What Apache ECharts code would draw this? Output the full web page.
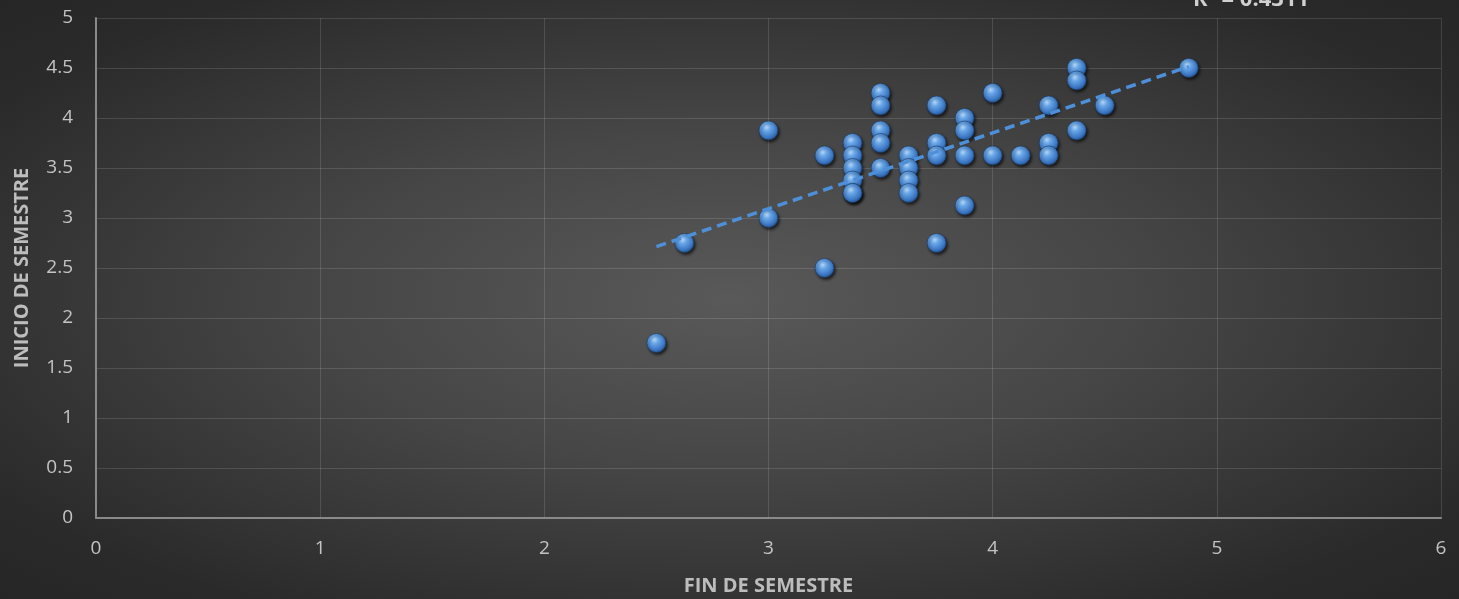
<!DOCTYPE html>
<html>
<head>
<meta charset="utf-8">
<style>
  html, body { margin: 0; padding: 0; }
  #chart {
    width: 1459px; height: 599px;
    background: radial-gradient(ellipse at 50% 50%, #595959 0%, #464646 40%, #2a2a2a 85%, #262626 100%);
  }
</style>
<script src="https://cdn.jsdelivr.net/npm/echarts@6/dist/echarts.min.js"></script>
</head>
<body>
<div id="chart"></div>
<script>
// Semester scores: end of semester (x) vs start of semester (y)
const finSemestre = [
  2.5, 2.625, 3.0, 3.0, 3.25, 3.25,
  3.375, 3.375, 3.375, 3.375, 3.375, 3.375,
  3.5, 3.5, 3.5, 3.5, 3.5,
  3.625, 3.625, 3.625, 3.625,
  3.75, 3.75, 3.75, 3.75,
  3.875, 3.875, 3.875, 3.875,
  4.0, 4.0, 4.125,
  4.25, 4.25, 4.25,
  4.375, 4.375, 4.375,
  4.5, 4.875
];
const inicioSemestre = [
  1.75, 2.75, 3.875, 3.0, 3.625, 2.5,
  3.75, 3.625, 3.5, 3.375, 3.25, 3.25,
  4.25, 4.125, 3.875, 3.75, 3.5,
  3.625, 3.5, 3.375, 3.25,
  4.125, 3.75, 3.625, 2.75,
  4.0, 3.875, 3.625, 3.125,
  4.25, 3.625, 3.625,
  4.125, 3.75, 3.625,
  4.5, 4.375, 3.875,
  4.125, 4.5
];
const xTicks = [0, 1, 2, 3, 4, 5, 6];
const yTicks = [0, 0.5, 1, 1.5, 2, 2.5, 3, 3.5, 4, 4.5, 5];
const rSquaredLabel = 'R² = 0.4311';

const points = finSemestre.map((x, i) => [x, inicioSemestre[i]]);

// Least-squares linear trend over the points
const n = points.length;
const mx = finSemestre.reduce((a, b) => a + b, 0) / n;
const my = inicioSemestre.reduce((a, b) => a + b, 0) / n;
let sxx = 0, sxy = 0;
points.forEach(([x, y]) => { sxx += (x - mx) * (x - mx); sxy += (x - mx) * (y - my); });
const slope = sxy / sxx;
const intercept = my - slope * mx;
const xMin = Math.min(...finSemestre), xMax = Math.max(...finSemestre);
const trend = [[xMin, intercept + slope * xMin], [xMax, intercept + slope * xMax]];

const chart = echarts.init(document.getElementById('chart'));
const tickColor = '#c4c4c4';
const gridColor = 'rgba(255,255,255,0.13)';
const axisColor = '#8a8a8a';
const font = '"Open Sans", sans-serif';

chart.setOption({
  backgroundColor: 'transparent',
  animation: false,
  grid: { left: 96, right: 18, top: 18, bottom: 81, containLabel: false, outerBoundsMode: 'none' },
  xAxis: {
    type: 'value',
    min: xTicks[0], max: xTicks[xTicks.length - 1], interval: 1,
    name: 'FIN DE SEMESTRE',
    nameLocation: 'middle', nameGap: 58,
    nameTextStyle: { color: '#bdbdbd', fontSize: 20, fontWeight: 'bold', fontFamily: font },
    axisLine: { show: true, lineStyle: { color: axisColor, width: 2 } },
    axisTick: { show: false },
    axisLabel: { color: tickColor, fontSize: 19, fontFamily: font, margin: 21 },
    splitLine: { show: true, lineStyle: { color: gridColor, width: 1 } }
  },
  yAxis: {
    type: 'value',
    min: yTicks[0], max: yTicks[yTicks.length - 1], interval: 0.5,
    name: 'INICIO DE SEMESTRE',
    nameLocation: 'middle', nameGap: 64,
    nameTextStyle: { color: '#bdbdbd', fontSize: 20, fontWeight: 'bold', fontFamily: font },
    axisLine: { show: true, lineStyle: { color: axisColor, width: 2 } },
    axisTick: { show: false },
    axisLabel: { color: tickColor, fontSize: 19, fontFamily: font, margin: 23 },
    splitLine: { show: true, lineStyle: { color: gridColor, width: 1 } }
  },
  graphic: [{
    type: 'text',
    x: 1193, y: -11,
    z: 10,
    style: {
      text: rSquaredLabel, fill: '#d0d0d0',
      font: 'bold 22px ' + font,
      textAlign: 'left', textVerticalAlign: 'top'
    }
  }],
  series: [
    {
      type: 'scatter',
      data: points,
      symbol: 'circle',
      symbolSize: 19,
      z: 2,
      itemStyle: {
        color: {
          type: 'radial', x: 0.4, y: 0.33, r: 0.7,
          colorStops: [
            { offset: 0, color: '#b4d6f8' },
            { offset: 0.3, color: '#68a5e6' },
            { offset: 0.75, color: '#3b77c4' },
            { offset: 1, color: '#24508a' }
          ]
        },
        borderColor: '#1d3c66', borderWidth: 0.6,
        shadowBlur: 3, shadowColor: 'rgba(0,0,0,0.65)',
        shadowOffsetX: 1.5, shadowOffsetY: 2,
        opacity: 1
      }
    },
    {
      type: 'line',
      data: trend,
      symbol: 'none',
      z: 3,
      lineStyle: { color: '#4d8fd8', width: 3.5, type: [10, 6], cap: 'butt' }
    }
  ]
});
</script>
</body>
</html>
